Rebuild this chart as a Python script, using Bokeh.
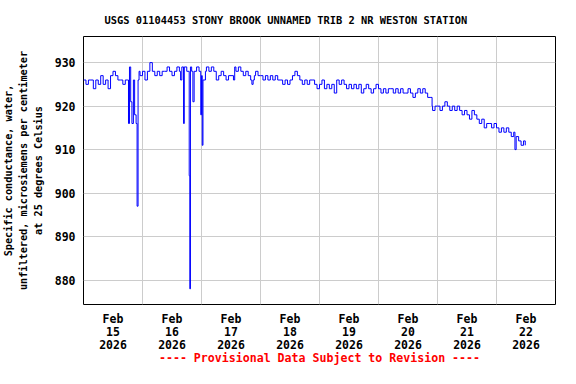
from bokeh.plotting import figure
from bokeh.models import FixedTicker, Range1d, Title
from bokeh.embed import file_html
from bokeh.resources import INLINE

TITLE = "USGS 01104453 STONY BROOK UNNAMED TRIB 2 NR WESTON STATION"
Y_LABEL = "Specific conductance, water,\nunfiltered, microsiemens per centimeter\nat 25 degrees Celsius"
FOOTER = "---- Provisional Data Subject to Revision ----"

DAY_LABELS = ["Feb\n15\n2026", "Feb\n16\n2026", "Feb\n17\n2026", "Feb\n18\n2026",
              "Feb\n19\n2026", "Feb\n20\n2026", "Feb\n21\n2026", "Feb\n22\n2026"]
Y_TICKS = [880, 890, 900, 910, 920, 930]

# hours within each day (EST), and specific conductance (uS/cm)
FEB15_H = [0, 1, 2, 3, 4, 5, 6, 7, 8, 9, 10, 11, 12, 13, 14, 15, 16, 17, 18,
           18.3, 18.7, 19.2, 19.7, 20.3, 20.8, 21.4, 21.8, 22.2, 22.6, 23]
FEB15_V = [926, 925, 926, 926, 924, 926, 925, 927, 925, 926, 924, 927, 928, 927, 926, 926, 925, 926, 926,
           916, 929, 921, 916, 926, 918, 916, 897, 926, 928, 927]

FEB16_H = [0, 1, 2, 3, 4, 5, 6, 7, 8, 9, 10, 11, 12, 13, 14, 15, 15.5, 16, 16.7, 17, 18,
           19, 19.25, 19.5, 20, 20.5, 21, 22, 23, 23.7]
FEB16_V = [928, 926, 928, 930, 928, 927, 928, 927, 928, 928, 929, 928, 927, 928, 929, 928, 926, 929, 916, 929, 928,
           904, 878, 929, 928, 921, 928, 929, 928, 918]

FEB17_H = [0, 0.3, 0.6, 1, 1.6, 2, 3, 4, 5, 6, 7, 8, 9, 10, 11, 12, 13, 13.5, 14, 15, 16, 17, 18, 19, 20,
           20.5, 21, 21.5, 22, 23]
FEB17_V = [927, 911, 926, 926, 928, 929, 928, 929, 928, 926, 927, 928, 927, 926, 927, 927, 926, 929, 928, 929, 928,
           927, 928, 927, 926, 925, 926, 927, 928, 927]

FEB18_H = list(range(24))
FEB18_V = [927, 926, 927, 926, 927, 926, 927, 926, 926, 925, 926, 925, 926, 927, 928, 927, 926, 925, 926, 925,
           926, 926, 925, 924]

FEB19_H = list(range(24))
FEB19_V = [925, 926, 924, 925, 924, 925, 923, 926, 925, 926, 925, 924, 925, 924, 925, 924, 925, 923, 924, 925,
           924, 923, 924, 925]

FEB20_H = [0, 1, 2, 3, 4, 5, 6, 7, 8, 9, 10, 11, 12, 13, 14, 15, 16, 17, 18, 19, 20, 21, 21.8, 22, 23]
FEB20_V = [924, 923, 924, 923, 924, 924, 923, 924, 923, 924, 923, 923, 924, 923, 922, 923, 924, 923, 924, 923,
           922, 922, 920, 919, 920]

FEB21_H = list(range(24))
FEB21_V = [920, 919, 920, 921, 920, 919, 920, 919, 920, 919, 918, 919, 918, 917, 919, 918, 917, 916, 917, 915,
           916, 916, 915, 916]

FEB22_H = [0, 1, 2, 3, 4, 5, 6, 7, 7.5, 8, 9, 10, 11, 11.7]
FEB22_V = [915, 914, 915, 914, 915, 914, 913, 914, 910, 913, 912, 911, 912, 911]

DAYS_H = [FEB15_H, FEB16_H, FEB17_H, FEB18_H, FEB19_H, FEB20_H, FEB21_H, FEB22_H]
DAYS_V = [FEB15_V, FEB16_V, FEB17_V, FEB18_V, FEB19_V, FEB20_V, FEB21_V, FEB22_V]

t = []
v = []
for d, (hs, vs) in enumerate(zip(DAYS_H, DAYS_V)):
    t += [24 * d + h for h in hs]
    v += vs

FONT = "DejaVu Sans Mono"

p = figure(width=560, height=368, x_range=Range1d(0, 192), y_range=Range1d(874.4, 936.0),
           output_backend="svg", toolbar_location=None,
           min_border_left=0, min_border_right=5, min_border_top=0, min_border_bottom=0)

title = Title(text=TITLE, align="left", offset=21, text_font=FONT, text_font_style="bold",
              text_font_size="10.4px", text_color="black", standoff=22)
p.add_layout(title, "above")

p.step(t, v, mode="after", line_color="#0000FF", line_width=1)

p.outline_line_color = "black"
p.outline_line_width = 1
p.background_fill_color = "white"
p.border_fill_color = "white"

# x axis
p.xaxis.ticker = FixedTicker(ticks=[12 + 24 * i for i in range(len(DAY_LABELS))])
p.xaxis.major_label_overrides = {12 + 24 * i: lab for i, lab in enumerate(DAY_LABELS)}
p.xaxis.axis_line_color = None
p.xaxis.major_tick_line_color = None
p.xaxis.minor_tick_line_color = None
p.xaxis.major_tick_out = 0
p.xaxis.major_tick_in = 0
p.xaxis.major_label_standoff = 7
p.xaxis.major_label_text_font = FONT
p.xaxis.major_label_text_font_style = "bold"
p.xaxis.major_label_text_font_size = "11.5px"
p.xaxis.major_label_text_line_height = 0.95
p.xaxis.major_label_text_color = "black"
p.xaxis.axis_label = FOOTER
p.xaxis.axis_label_text_font = FONT
p.xaxis.axis_label_text_font_style = "bold"
p.xaxis.axis_label_text_font_size = "11.6px"
p.xaxis.axis_label_text_line_height = 0.6
p.xaxis.axis_label_text_color = "#FF0000"
p.xaxis.axis_label_standoff = -4

# y axis
p.yaxis.ticker = FixedTicker(ticks=Y_TICKS)
p.yaxis.axis_line_color = None
p.yaxis.major_tick_line_color = None
p.yaxis.minor_tick_line_color = None
p.yaxis.major_tick_out = 0
p.yaxis.major_tick_in = 0
p.yaxis.major_label_standoff = 8
p.yaxis.major_label_text_font = FONT
p.yaxis.major_label_text_font_style = "bold"
p.yaxis.major_label_text_font_size = "11.5px"
p.yaxis.major_label_text_color = "black"
p.yaxis.axis_label = Y_LABEL
p.yaxis.axis_label_text_font = FONT
p.yaxis.axis_label_text_font_style = "bold"
p.yaxis.axis_label_text_font_size = "10.2px"
p.yaxis.axis_label_text_line_height = 1.35
p.yaxis.axis_label_text_color = "black"
p.yaxis.axis_label_standoff = 8

# grids
p.xgrid.ticker = FixedTicker(ticks=[24 * i for i in range(9)])
p.xgrid.grid_line_color = "#cccccc"
p.xgrid.grid_line_width = 1
p.ygrid.ticker = FixedTicker(ticks=Y_TICKS)
p.ygrid.grid_line_color = "#cccccc"
p.ygrid.grid_line_width = 1

open("out.html", "w").write(file_html(p, INLINE))
